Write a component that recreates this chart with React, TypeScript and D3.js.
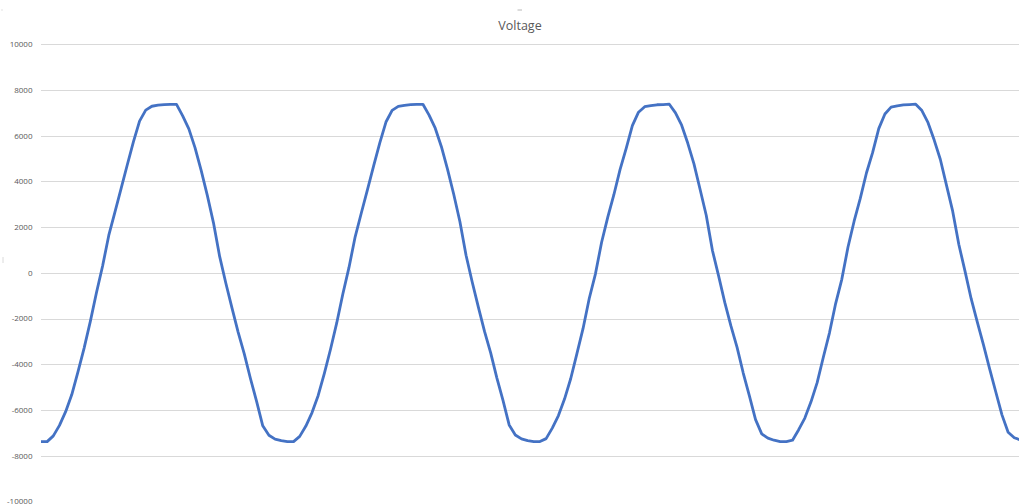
import React from 'react';
import * as d3 from 'd3';

const title = 'Voltage';

// sampled voltage readings, one array per cycle (trough -> peak -> trough)
const cycle1 = [
  -7380, -7380, -7130, -6670, -6070, -5320, -4330, -3290, -2130, -870,
  300, 1640, 2660, 3690, 4720, 5730, 6640, 7120, 7290, 7335,
  7360, 7375, 7370, 6870, 6300, 5480, 4480, 3390, 2190, 720,
  -440, -1530, -2590, -3540, -4620, -5620, -6690, -7100, -7270, -7340,
];
const cycle2 = [
  -7380, -7380, -7150, -6700, -6110, -5360, -4390, -3340, -2200, -920,
  240, 1580, 2620, 3640, 4680, 5690, 6600, 7110, 7285, 7330,
  7360, 7370, 7375, 6900, 6330, 5520, 4530, 3440, 2250, 770,
  -400, -1500, -2560, -3500, -4590, -5580, -6650, -7090, -7260, -7340,
];
const cycle3 = [
  -7380, -7380, -7250, -6790, -6240, -5510, -4620, -3530, -2430, -1120,
  -50, 1330, 2430, 3420, 4520, 5450, 6440, 7030, 7270, 7320,
  7355, 7365, 7380, 7000, 6460, 5670, 4770, 3650, 2510, 980,
  -130, -1290, -2320, -3260, -4380, -5380, -6420, -7040, -7230, -7320,
];
const cycle4 = [
  -7380, -7380, -7320, -6860, -6350, -5640, -4800, -3690, -2620, -1340,
  -280, 1120, 2260, 3260, 4370, 5260, 6310, 6950, 7250, 7310,
  7350, 7365, 7380, 7100, 6570, 5810, 4960, 3830, 2700, 1240,
  80, -1130, -2150, -3150, -4200, -5210, -6210, -6970, -7210, -7310,
];
const voltage = [...cycle1, ...cycle2, ...cycle3, ...cycle4];

const yTicks = [10000, 8000, 6000, 4000, 2000, 0, -2000, -4000, -6000, -8000, -10000];

const W = 1019;
const H = 504;
const plotLeft = 41;
const sampleStep = 6.16;

const App: React.FC = () => {
  const x = d3
    .scaleLinear()
    .domain([0, voltage.length - 1])
    .range([plotLeft, plotLeft + (voltage.length - 1) * sampleStep]);
  const y = d3.scaleLinear().domain([-10000, 10000]).range([501.5, 44.3]);

  const line = d3
    .line<number>()
    .x((_, i) => x(i))
    .y((d) => y(d));

  const font = "'Open Sans', 'Noto Sans', sans-serif";

  return (
    <svg
      width={W}
      height={H}
      style={{ position: 'absolute', left: 0, top: 0, background: '#fff' }}
    >
      <defs>
        <clipPath id="plot">
          <rect x={plotLeft} y={0} width={W - plotLeft} height={H} />
        </clipPath>
      </defs>
      {/* stray marks from the original export */}
      <line x1={517.5} x2={522} y1={10} y2={10} stroke="#a6a6a6" strokeWidth={0.8} />
      <line x1={3} x2={3} y1={257} y2={263} stroke="#d0d0d0" strokeWidth={0.8} />
      <rect x={1.5} y={9.5} width={1} height={1} fill="#c8c8c8" />

      <text
        x={520}
        y={29.5}
        textAnchor="middle"
        fontFamily={font}
        fontSize={12.5}
        fill="#595959"
      >
        {title}
      </text>

      {yTicks
        .filter((t) => t !== -10000)
        .map((t) => (
          <line
            key={'g' + t}
            x1={plotLeft}
            x2={W}
            y1={Math.round(y(t)) + 0.5}
            y2={Math.round(y(t)) + 0.5}
            stroke="#d9d9d9"
            strokeWidth={1}
          />
        ))}
      {yTicks.map((t) => (
        <text
          key={'t' + t}
          x={32.5}
          y={y(t)}
          dy="0.35em"
          textAnchor="end"
          fontFamily={font}
          fontSize={8}
          fill="#595959"
        >
          {t}
        </text>
      ))}

      <path
        d={line(voltage) || ''}
        fill="none"
        stroke="#4472c4"
        strokeWidth={2.8}
        strokeLinejoin="round"
        strokeLinecap="round"
        clipPath="url(#plot)"
      />
    </svg>
  );
};

export default App;
